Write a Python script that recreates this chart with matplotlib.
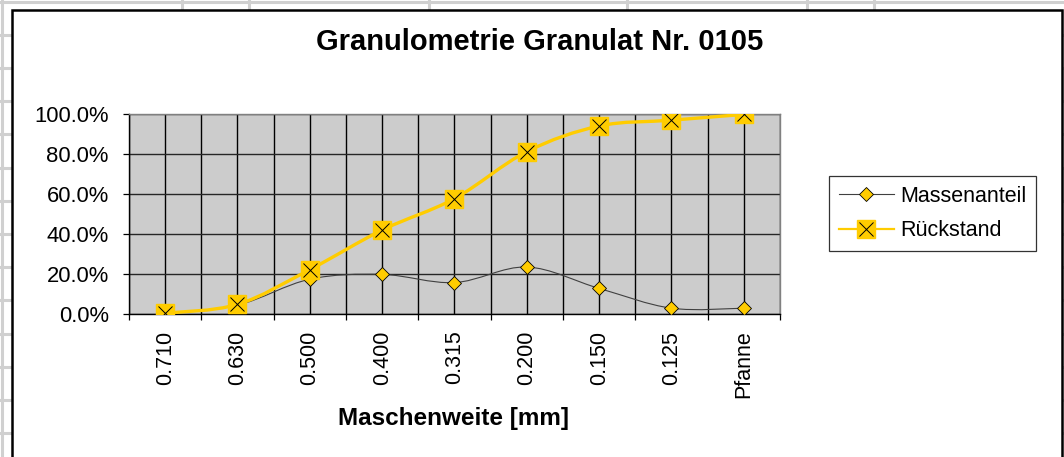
import matplotlib
matplotlib.use("Agg")
import matplotlib.pyplot as plt
import numpy as np
from matplotlib.lines import Line2D
from matplotlib.patches import PathPatch, Rectangle
from matplotlib.path import Path
from matplotlib.ticker import FixedLocator, PercentFormatter

plt.rcParams["font.family"] = ["Liberation Sans", "DejaVu Sans"]

# sieve sizes (x categories)
sieves = ["0.710", "0.630", "0.500", "0.400", "0.315", "0.200", "0.150", "0.125", "Pfanne"]
# fraction retained on each sieve
massenanteil = [0.004, 0.044, 0.174, 0.198, 0.157, 0.235, 0.128, 0.029, 0.029]
# cumulative residue
rueckstand = [0.004, 0.048, 0.222, 0.420, 0.577, 0.812, 0.940, 0.969, 0.998]

GOLD = "#ffcc00"
W, H = 1064, 457


def smooth_path(xs, ys):
    """Excel-style smoothed line: Catmull-Rom converted to cubic Bezier."""
    pts = np.column_stack([xs, ys]).astype(float)
    ext = np.vstack([pts[0], pts, pts[-1]])
    verts = [pts[0]]
    codes = [Path.MOVETO]
    for i in range(len(pts) - 1):
        p0, p1, p2, p3 = ext[i], ext[i + 1], ext[i + 2], ext[i + 3]
        verts += [p1 + (p2 - p0) / 6, p2 - (p3 - p1) / 6, p2]
        codes += [Path.CURVE4] * 3
    return Path(verts, codes)


fig = plt.figure(figsize=(W / 100, H / 100), dpi=100)

# spreadsheet background + chart area frame (pixel coordinates)
bg = fig.add_axes([0, 0, 1, 1], zorder=-5)
bg.set_xlim(0, W)
bg.set_ylim(H, 0)
bg.axis("off")
for xc in [1.5, 182, 249, 429, 627, 807, 874]:
    bg.axvline(xc, color="#d0d0d0", lw=2.2)
for yr in np.arange(1.5, H, 33.2):
    bg.axhline(yr, color="#d0d0d0", lw=2.2)
bg.add_patch(Rectangle((12, 9.5), 1050, 460, facecolor="white",
                       edgecolor="black", lw=1.8, zorder=3))

# plot area
ax = fig.add_axes([129 / W, (H - 314) / H, (780 - 129) / W, 200 / H])
ax.set_facecolor("#cccccc")
x = np.arange(len(sieves))
ax.set_xlim(-0.5, len(sieves) - 0.5)
ax.set_ylim(0, 1.0)

ax.xaxis.set_major_locator(FixedLocator(np.arange(-0.5, len(sieves))))
ax.xaxis.set_minor_locator(FixedLocator(x))
ax.set_xticklabels([], minor=False)
ax.set_xticks(x, sieves, minor=True, rotation=90)
ax.tick_params(axis="x", which="major", length=4.5, width=0.9, direction="out", color="black")
ax.tick_params(axis="x", which="minor", length=0, pad=12, labelsize=15.5)
ax.set_yticks(np.arange(0, 1.01, 0.2))
ax.yaxis.set_major_formatter(PercentFormatter(1.0, decimals=1))
ax.tick_params(axis="y", length=4.5, width=0.9, direction="out", pad=10, labelsize=15.8)
ax.grid(True, which="both", axis="x", color="black", lw=1.0)
ax.grid(True, which="major", axis="y", color="#262626", lw=1.0)
ax.set_axisbelow(True)
for side, sp in ax.spines.items():
    sp.set_color("#808080")
    sp.set_linewidth(1.0)
ax.spines["left"].set_color("black")
ax.spines["bottom"].set_color("black")

# Massenanteil: thin smoothed line with diamonds
ax.add_patch(PathPatch(smooth_path(x, massenanteil), fill=False,
                       edgecolor="#404040", lw=0.8, zorder=3))
ax.plot(x, massenanteil, ls="none", marker="D", ms=7.5, mfc=GOLD,
        mec="black", mew=0.6, zorder=4)

# Rückstand: thick gold smoothed line with squares + x
ax.add_patch(PathPatch(smooth_path(x, rueckstand), fill=False,
                       edgecolor=GOLD, lw=2.4, zorder=5))
ax.plot(x, rueckstand, ls="none", marker="s", ms=13.5, mfc=GOLD,
        mec=GOLD, zorder=6)
ax.plot(x, rueckstand, ls="none", marker="x", ms=9.5, mec="black",
        mew=0.7, zorder=7)

# texts
fig.text(540 / W, 1 - 42 / H, "Granulometrie Granulat Nr. 0105",
         ha="center", va="center", fontsize=21, fontweight="bold")
fig.text(454 / W, 1 - 418 / H, "Maschenweite [mm]",
         ha="center", va="center", fontsize=17.5, fontweight="bold")

# legend
h1 = Line2D([], [], color="#404040", lw=0.8, marker="D", ms=7.5,
            mfc=GOLD, mec="black", mew=0.6)
h2a = Line2D([], [], color=GOLD, lw=1.6, marker="s", ms=13.5, mfc=GOLD, mec=GOLD)
h2b = Line2D([], [], ls="none", marker="x", ms=9.5, mec="black", mew=0.7)
leg = fig.legend([h1, (h2a, h2b)], ["Massenanteil", "Rückstand"],
                 loc="upper left", bbox_to_anchor=(829 / W, 1 - 176 / H),
                 borderaxespad=0, fontsize=15.5, frameon=True, fancybox=False,
                 edgecolor="black", handlelength=2.55, handletextpad=0.3,
                 borderpad=0.45, labelspacing=0.62)
leg.get_frame().set_linewidth(0.9)

fig.savefig("out.png", dpi=100, facecolor="white")
